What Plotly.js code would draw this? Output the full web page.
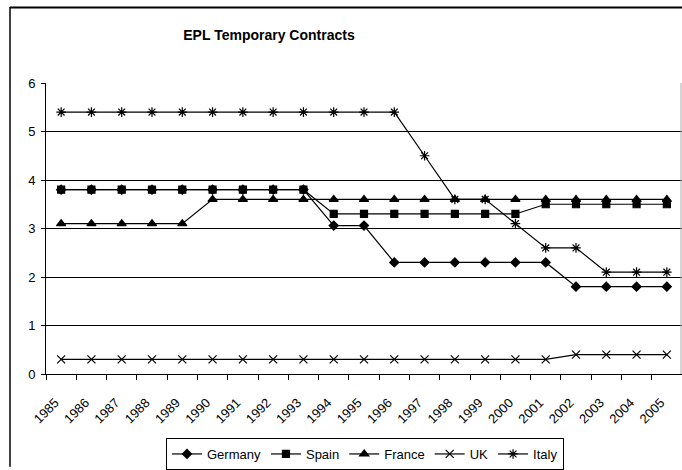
<!DOCTYPE html>
<html>
<head>
<meta charset="utf-8">
<script src="https://cdn.plot.ly/plotly-3.0.1.min.js"></script>
<style>html,body{margin:0;padding:0;background:#fff;}#chart{width:682px;height:470px;}</style>
</head>
<body>
<div id="chart"></div>
<script>
const years = ["1985","1986","1987","1988","1989","1990","1991","1992","1993","1994","1995","1996","1997","1998","1999","2000","2001","2002","2003","2004","2005"];
const germany = [3.8,3.8,3.8,3.8,3.8,3.8,3.8,3.8,3.8,3.06,3.06,2.3,2.3,2.3,2.3,2.3,2.3,1.8,1.8,1.8,1.8];
const spain   = [3.8,3.8,3.8,3.8,3.8,3.8,3.8,3.8,3.8,3.3,3.3,3.3,3.3,3.3,3.3,3.3,3.5,3.5,3.5,3.5,3.5];
const france  = [3.1,3.1,3.1,3.1,3.1,3.6,3.6,3.6,3.6,3.6,3.6,3.6,3.6,3.6,3.6,3.6,3.6,3.6,3.6,3.6,3.6];
const uk      = [0.3,0.3,0.3,0.3,0.3,0.3,0.3,0.3,0.3,0.3,0.3,0.3,0.3,0.3,0.3,0.3,0.3,0.4,0.4,0.4,0.4];
const italy   = [5.4,5.4,5.4,5.4,5.4,5.4,5.4,5.4,5.4,5.4,5.4,5.4,4.5,3.6,3.6,3.1,2.6,2.6,2.1,2.1,2.1];
const seriesNames = ["Germany","Spain","France","UK","Italy"];

const W = 682, H = 470;
const M = {l: 46, r: 0, t: 83, b: 92};
const pw = W - M.l - M.r, ph = H - M.t - M.b;
const px = x => (x - M.l) / pw;
const py = y => (H - M.b - y) / ph;

const styles = [
  {symbol: 'diamond', size: 7},
  {symbol: 'square', size: 7},
  {symbol: 'triangle-up', size: 8},
  {symbol: 'x-thin-open', size: 8},
  {symbol: 'asterisk-open', size: 8}
];
const data = [germany, spain, france, uk, italy].map((vals, i) => ({
  type: 'scatter', mode: 'lines+markers', name: seriesNames[i],
  x: years, y: vals,
  line: {color: '#000', width: 1.2},
  marker: {symbol: styles[i].symbol, size: styles[i].size, color: '#000', line: {color: '#000', width: 1.2}}
}));

const layout = {
  width: W, height: H,
  margin: M,
  paper_bgcolor: '#fff', plot_bgcolor: '#fff',
  font: {family: 'Liberation Sans, Arial, sans-serif', size: 13, color: '#000'},
  title: {text: '<b>EPL Temporary Contracts</b>', x: 269 / W, xanchor: 'center', xref: 'container',
          y: 1 - 35 / H, yanchor: 'middle', yref: 'container',
          font: {family: 'Liberation Sans, Arial, sans-serif', size: 14, color: '#000'}},
  xaxis: {type: 'category', range: [-0.5, 20.5], tickson: 'boundaries', ticks: 'outside', ticklen: 5,
          tickcolor: '#000', showgrid: false, showline: true, linecolor: '#000', linewidth: 1,
          tickangle: -45, tickfont: {size: 13}, ticklabelstandoff: 15, ticklabelshift: -6},
  yaxis: {range: [0, 6], dtick: 1, ticks: 'outside', ticklen: 4, tickcolor: '#000',
          showgrid: true, gridcolor: '#000', gridwidth: 1, showline: true, linecolor: '#000',
          linewidth: 1, zeroline: false, tickfont: {size: 13}, ticklabelstandoff: 3},
  showlegend: true,
  legend: {orientation: 'h', x: px(166), xanchor: 'left', y: py(443), yanchor: 'top',
           bordercolor: '#000', borderwidth: 1, bgcolor: '#fff', font: {size: 13},
           itemclick: false, traceorder: 'normal'},
  shapes: [
    {type: 'line', xref: 'paper', yref: 'paper', x0: px(10), x1: px(10), y0: py(6), y1: py(472), line: {color: '#000', width: 1.5}},
    {type: 'line', xref: 'paper', yref: 'paper', x0: px(10), x1: px(683), y0: py(6.5), y1: py(6.5), line: {color: '#000', width: 2}},
    {type: 'line', xref: 'paper', yref: 'paper', x0: px(681), x1: px(681), y0: py(83), y1: py(378), line: {color: '#aaa', width: 1}}
  ]
};
Plotly.newPlot('chart', data, layout, {displayModeBar: false, staticPlot: true});
</script>
</body>
</html>
